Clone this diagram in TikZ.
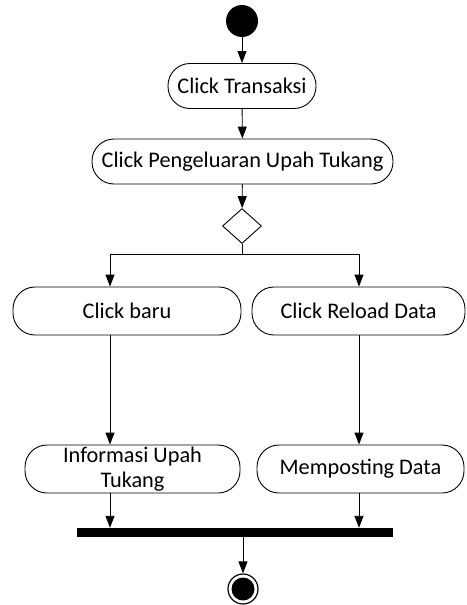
\documentclass[tikz,border=0pt]{standalone}
\usepackage{fontspec}
\setmainfont{Carlito}
\usepackage{tikz}
\usetikzlibrary{arrows.meta,shapes.geometric}

\tikzset{
  act/.style={draw,line width=0.9pt,rounded corners=22pt,align=center,inner sep=0pt,font=\fontsize{22.3}{25.5}\selectfont},
  flow/.style={line width=0.9pt,-{Triangle[length=12pt,width=9pt]}},
  line/.style={line width=0.9pt}
}

\begin{document}
\begin{tikzpicture}[x=1pt,y=-1pt]
    \useasboundingbox (0,0) rectangle (466,605);

    \node [circle,fill=black,minimum size=32pt,inner sep=0pt] (start) at (242,21) {}; % start
    \node [act,minimum width=148pt,minimum height=45pt] (trans) at (242,86) {Click Transaksi};
    \node [act,minimum width=301pt,minimum height=45pt] (keluar) at (242.5,161.5) {Click Pengeluaran Upah Tukang};
    \node [diamond,draw,line width=0.9pt,minimum width=39pt,minimum height=35pt,inner sep=0pt] (dec) at (242,226) {}; % decision
    \node [act,minimum width=228pt,minimum height=48pt] (baru) at (127,311) {Click baru};
    \node [act,minimum width=213pt,minimum height=48pt] (reload) at (358.5,311) {Click Reload Data};
    \node [act,minimum width=215pt,minimum height=48pt] (info) at (132.5,469) {Informasi Upah\\Tukang};
    \node [act,minimum width=207pt,minimum height=48pt] (posting) at (360.5,469) {Memposting Data};
    \node [fill=black,minimum width=316pt,minimum height=9pt,inner sep=0pt] (join) at (235,532.5) {}; % join bar
    \node [circle,draw,line width=1.2pt,minimum size=30pt,inner sep=0pt] (stop) at (243,589) {}; % end
    \fill (stop) circle (11.5pt);

    \coordinate (lx) at (110,254); % left split
    \coordinate (rx) at (359,254); % right split

    \draw [flow] (start) -- (trans);
    \draw [flow] (trans) -- (keluar);
    \draw [flow] (keluar) -- (dec);
    \draw [line] (dec.south) -- (dec.south |- lx);
    \draw [line] (lx) -- (rx);
    \draw [flow] (lx) -- (baru.north -| lx);
    \draw [flow] (rx) -- (reload.north -| rx);
    \draw [flow] (baru.south -| lx) -- (info.north -| lx);
    \draw [flow] (reload.south -| rx) -- (posting.north -| rx);
    \draw [flow] (info.south -| lx) -- (join.north -| lx);
    \draw [flow] (posting.south -| rx) -- (join.north -| rx);
    \draw [flow] (join.south -| stop) -- (stop.north);
\end{tikzpicture}
\end{document}
